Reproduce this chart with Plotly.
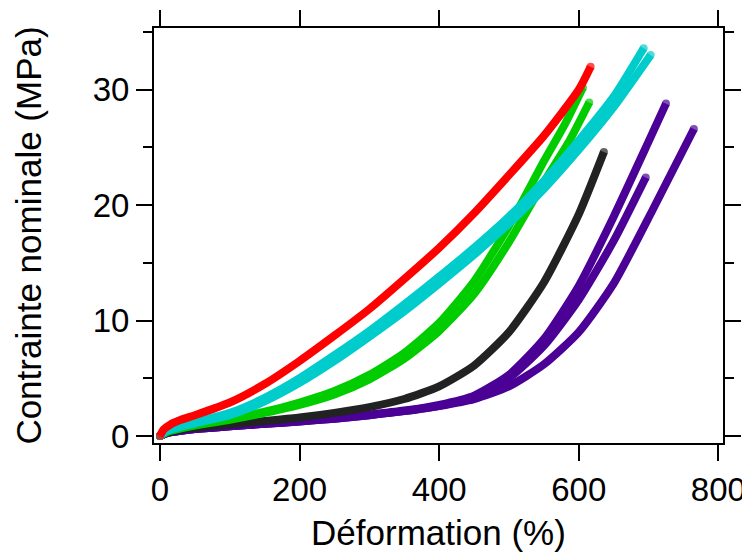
import plotly.graph_objects as go

# ---- data (strain %, nominal stress MPa) ----
red_x = [0, 5, 15, 30, 50, 100, 150, 200, 250, 300, 350, 400, 450, 500, 550, 600, 617]
red_y = [0, 0.55, 1.0, 1.4, 1.8, 2.9, 4.5, 6.5, 8.7, 11.0, 13.6, 16.3, 19.3, 22.6, 26.0, 30.0, 32.0]

cyan1_x = [0, 10, 30, 50, 100, 150, 200, 250, 300, 350, 400, 450, 500, 550, 600, 650, 693]
cyan1_y = [0, 0.5, 0.9, 1.2, 2.0, 3.3, 5.0, 7.0, 9.1, 11.4, 13.8, 16.3, 19.0, 22.1, 25.6, 29.4, 33.6]
cyan2_x = [0, 10, 30, 50, 100, 150, 200, 250, 300, 350, 400, 450, 500, 550, 600, 650, 703]
cyan2_y = [0, 0.45, 0.8, 1.1, 1.8, 3.0, 4.6, 6.5, 8.6, 10.8, 13.2, 15.7, 18.4, 21.4, 24.8, 28.5, 33.0]

green1_x = [0, 10, 30, 50, 100, 150, 200, 250, 300, 350, 400, 450, 500, 550, 580, 606]
green1_y = [0, 0.4, 0.7, 0.95, 1.5, 2.1, 2.9, 3.9, 5.3, 7.2, 9.8, 13.4, 18.2, 23.8, 27.0, 30.2]
green2_x = [0, 10, 30, 50, 100, 150, 200, 250, 300, 350, 400, 450, 500, 550, 585, 615]
green2_y = [0, 0.35, 0.65, 0.9, 1.4, 2.0, 2.7, 3.6, 4.9, 6.7, 9.1, 12.3, 16.8, 22.0, 25.4, 28.9]

black_x = [0, 10, 30, 50, 100, 150, 200, 250, 300, 350, 400, 450, 500, 550, 600, 636]
black_y = [0, 0.3, 0.55, 0.7, 1.0, 1.3, 1.6, 2.0, 2.5, 3.2, 4.3, 6.1, 9.0, 13.3, 19.2, 24.6]

purple1_x = [0, 10, 30, 50, 100, 150, 200, 250, 300, 350, 400, 450, 500, 550, 600, 650, 696]
purple1_y = [0, 0.25, 0.45, 0.6, 0.85, 1.05, 1.25, 1.5, 1.8, 2.15, 2.6, 3.4, 5.0, 7.8, 11.8, 16.9, 22.4]
purple2_x = [0, 10, 30, 50, 100, 150, 200, 250, 300, 350, 400, 450, 500, 550, 600, 650, 700, 725]
purple2_y = [0, 0.25, 0.45, 0.6, 0.85, 1.05, 1.3, 1.55, 1.85, 2.2, 2.7, 3.5, 5.3, 8.4, 13.0, 19.0, 25.5, 28.8]
purple3_x = [0, 10, 30, 50, 100, 150, 200, 250, 300, 350, 400, 450, 500, 550, 600, 650, 706, 765]
purple3_y = [0, 0.25, 0.45, 0.6, 0.85, 1.05, 1.25, 1.5, 1.8, 2.15, 2.6, 3.2, 4.3, 6.2, 9.0, 13.2, 19.6, 26.6]

x_ticks = [0, 200, 400, 600, 800]
y_ticks = [0, 10, 20, 30]
y_minor = [5, 15, 25, 35]

RED = "#FF0000"
CYAN = "#00CCCC"
GREEN = "#00CC00"
BLACK = "#222222"
PURPLE = "#4B0096"

curves = [
    (purple1_x, purple1_y, PURPLE),
    (purple2_x, purple2_y, PURPLE),
    (purple3_x, purple3_y, PURPLE),
    (black_x, black_y, BLACK),
    (green1_x, green1_y, GREEN),
    (green2_x, green2_y, GREEN),
    (cyan1_x, cyan1_y, CYAN),
    (cyan2_x, cyan2_y, CYAN),
    (red_x, red_y, RED),
]

fig = go.Figure()
for xs, ys, col in curves:
    n = len(xs)
    fig.add_trace(go.Scatter(
        x=xs, y=ys, mode="lines+markers",
        line=dict(color=col, width=8, shape="spline", smoothing=0.6),
        marker=dict(color=col, size=[8] + [0] * (n - 2) + [8], line=dict(width=0)),
        showlegend=False, hoverinfo="skip",
    ))

FONT = "Liberation Sans, Arial, Helvetica, sans-serif"

axis_common = dict(
    showline=True, linecolor="black", linewidth=2, mirror="ticks",
    ticks="outside", ticklen=16, tickwidth=2, tickcolor="black",
    showgrid=False, zeroline=False, automargin=False,
    tickfont=dict(family=FONT, size=33, color="black"),
)

fig.update_xaxes(
    **axis_common,
    range=[-8.6, 806.7], tickvals=x_ticks, ticktext=[str(v) for v in x_ticks],
    title=dict(text="Déformation (%)", font=dict(family=FONT, size=35, color="black"), standoff=14),
)
fig.update_yaxes(
    **axis_common,
    range=[-0.61, 35.35], tickvals=y_ticks, ticktext=[str(v) for v in y_ticks],
    minor=dict(tickvals=y_minor, ticks="outside", ticklen=9, tickwidth=2, tickcolor="black"),
    title=dict(text="Contrainte nominale (MPa)", font=dict(family=FONT, size=35, color="black"), standoff=40),
)

# the page adds an 8 px body margin, so the figure is sized to fit the window
fig.update_layout(
    width=742, height=545,
    margin=dict(l=146, r=27, t=20, b=110),
    paper_bgcolor="white", plot_bgcolor="white",
)

fig.write_html("out.html")
